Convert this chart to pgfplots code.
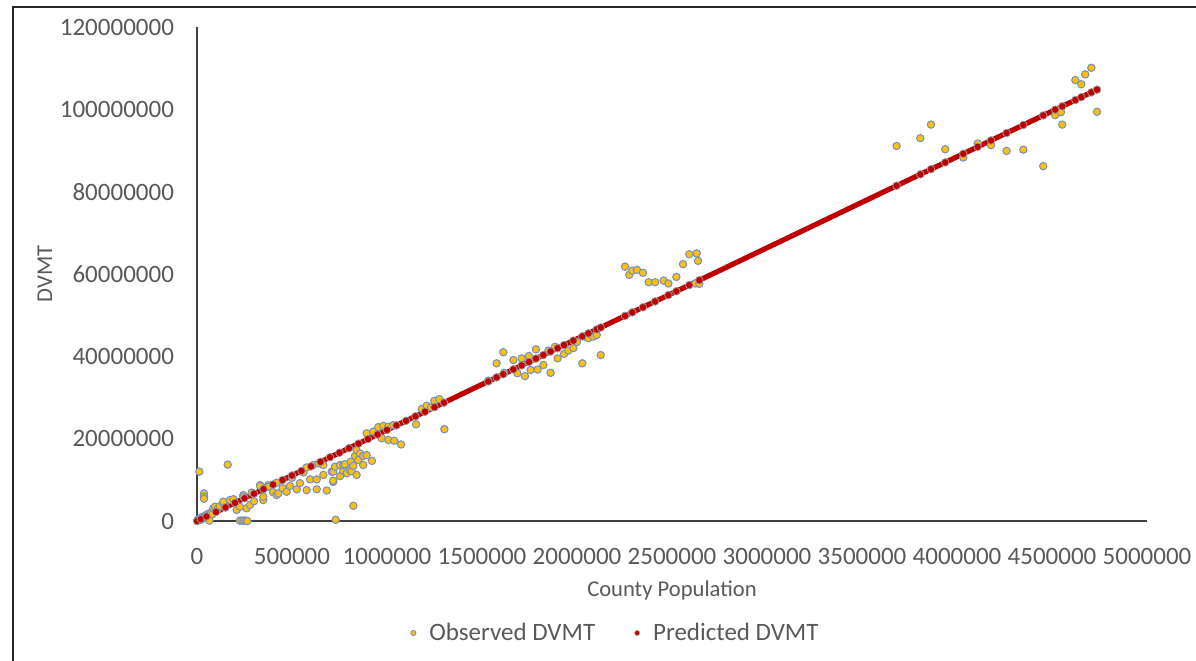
\documentclass[border=0pt]{standalone}
\usepackage{fontspec}
\setmainfont{Carlito}
\usepackage{pgfplots}
\usepackage{pgfplotstable}
\pgfplotsset{compat=1.18}
\definecolor{txt}{HTML}{595959}
\definecolor{obsfill}{HTML}{FFC000}
\definecolor{obsedge}{HTML}{6F8FCF}
\definecolor{predred}{HTML}{C00000}
\definecolor{axisgray}{HTML}{404040}

\pgfplotstableread{
pop val
3000 150000
6000 400000
9000 250000
12000 12000000
14000 600000
18000 300000
22000 800000
26000 500000
30000 1000000
34000 700000
36800 6700000
36800 5900000
36800 5400000
40000 1200000
45000 900000
50000 1400000
55000 1700000
60000 1300000
65000 100000
70000 1800000
75000 2100000
80000 1600000
86000 3100000
94700 3470000
100000 2400000
110000 3000000
120000 3600000
138000 4300000
138000 4700000
150000 3300000
161600 13700000
174000 5100000
191000 5300000
209000 2700000
226000 3470000
226000 100000
237000 100000
244000 6300000
244000 5900000
247000 100000
258000 100000
261000 3100000
265000 0
279000 3900000
288000 6900000
300000 4800000
332000 8700000
332000 8500000
349000 5100000
349000 5900000
375000 8700000
375000 8300000
400000 7000000
419000 9300000
419000 6300000
428000 6700000
450000 8000000
472000 7100000
489000 8500000
500000 10500000
525000 7700000
542000 9200000
560000 11800000
577000 7500000
577000 13000000
595000 10100000
612000 13600000
630000 7700000
630000 10100000
640000 14000000
665000 11200000
665000 13600000
683000 7400000
709000 12000000
717000 9500000
717000 9800000
717000 12000000
726000 13200000
730000 300000
753000 13600000
753000 10900000
770000 12200000
770000 13600000
779000 13800000
788000 11600000
805000 12400000
809000 14400000
814000 12100000
823000 13400000
823000 3700000
832000 15800000
840000 11200000
840000 17200000
849000 14800000
858000 16400000
875000 13600000
875000 15800000
893000 16000000
893000 21300000
921000 14600000
928000 21700000
954000 22800000
972000 20100000
981000 23100000
1007000 22900000
1007000 19700000
1033000 23300000
1038000 19500000
1074000 18600000
1153000 23500000
1183000 27200000
1209000 28000000
1232000 27600000
1249000 29200000
1275000 29600000
1302000 22300000
1533000 34100000
1577000 38300000
1612000 41000000
1617000 36000000
1665000 39100000
1686000 35900000
1709000 39500000
1726000 35200000
1747000 40100000
1756000 36700000
1784000 41700000
1793000 36800000
1823000 37900000
1849000 41400000
1861000 36000000
1884000 42300000
1898000 39500000
1932000 40600000
1954000 41400000
1981000 42000000
2000000 43500000
2028000 38300000
2040000 44800000
2060000 44400000
2086000 44800000
2104000 45200000
2125000 40300000
2253000 61800000
2275000 59800000
2291000 60800000
2316000 61000000
2347000 60300000
2377000 58000000
2411000 58000000
2456000 58400000
2481000 57700000
2523000 59300000
2558000 62400000
2591000 64800000
2623000 57700000
2630000 65000000
2637000 63200000
2644000 57600000
3682000 91100000
3807000 93000000
3863000 96300000
3938000 90300000
4033000 88300000
4109000 91700000
4179000 91300000
4261000 89900000
4349000 90200000
4454000 86200000
4517000 98600000
4547000 99300000
4554000 96300000
4623000 107100000
4654000 106100000
4675000 108500000
4707000 110100000
4737000 99400000
}\observed

\pgfplotstableread{
pop val
0 0
20000 442400
50000 1106000
100000 2212000
150000 3318000
200000 4424000
250000 5530000
300000 6636000
350000 7742000
400000 8848000
450000 9954000
500000 11060000
550000 12166000
600000 13272000
650000 14378000
700000 15484000
750000 16590000
800000 17696000
850000 18802000
900000 19908000
950000 21014000
1000000 22120000
1050000 23226000
1100000 24332000
1150000 25438000
1200000 26544000
1250000 27650000
1300000 28756000
1533000 33909960
1577000 34883240
1612000 35657440
1665000 36829800
1709000 37803080
1747000 38643640
1784000 39462080
1823000 40324760
1861000 41165320
1898000 41983760
1932000 42735840
1981000 43819720
2028000 44859360
2060000 45567200
2104000 46540480
2125000 47005000
2253000 49836360
2291000 50676920
2347000 51915640
2411000 53331320
2481000 54879720
2523000 55808760
2591000 57312920
2644000 58485280
3682000 81445840
3807000 84210840
3863000 85449560
3938000 87108560
4033000 89209960
4109000 90891080
4179000 92439480
4261000 94253320
4349000 96199880
4454000 98522480
4517000 99916040
4554000 100734480
4623000 102260760
4654000 102946480
4707000 104118840
4737000 104782440
}\predicted

\begin{document}
\begin{tikzpicture}[x=1pt,y=1pt]
\path[use as bounding box] (0,0) rectangle (598,-330);
\draw[line width=1.2pt, black!85] (6.5,-332) -- (6.5,-3.5) -- (600,-3.5);
\begin{axis}[
  at={(98.5pt,-260.5pt)}, anchor=south west,
  scale only axis, width=475pt, height=247pt,
  xmin=0, xmax=5000000, ymin=0, ymax=120000000,
  axis x line=bottom, axis y line=left,
  axis line style={axisgray, line width=0.7pt, -},
  xtick={0,500000,1000000,1500000,2000000,2500000,3000000,3500000,4000000,4500000,5000000},
  ytick={0,20000000,40000000,60000000,80000000,100000000,120000000},
  major tick length=0pt,
  scaled x ticks=false, scaled y ticks=false,
  /pgf/number format/fixed, /pgf/number format/precision=0,
  /pgf/number format/1000 sep={},
  /pgf/number format/assume math mode=true,
  tick label style={font=\fontsize{12.5}{14}\selectfont, text=txt},
  xticklabel style={yshift=-10pt},
  yticklabel style={xshift=-8pt},
  xlabel={County Population},
  ylabel={DVMT},
  label style={font=\fontsize{11.3}{13}\selectfont, text=txt},
  xlabel style={at={(axis description cs:0.5,-0.1396)}, anchor=center},
  ylabel style={at={(axis description cs:-0.16,0.5)}, anchor=center},
  legend columns=2,
  legend style={draw=none, fill=none, at={(0.441,-0.2267)}, anchor=center,
    font=\fontsize{12.5}{14}\selectfont, text=txt,
    /tikz/every even column/.append style={column sep=17pt}},
  legend image code/.code={\path[draw=none,fill=none] (-2pt,0pt) (6pt,0pt); \draw[#1] plot coordinates {(0pt,0pt)};},
  clip=false,
]
\addplot[only marks, mark=*, mark size=1.85pt,
  mark options={fill=obsfill, draw=obsedge, line width=0.5pt}, forget plot]
  table[x=pop, y=val]{\observed};
\addplot[predred, line width=2.6pt, mark=*, mark size=1.9pt,
  mark options={fill=predred, draw=gray!80, line width=0.4pt}, forget plot]
  table[x=pop, y=val]{\predicted};
\addlegendimage{only marks, mark=*, mark size=1.3pt, mark options={fill=obsfill, draw=obsedge, line width=0.4pt}}
\addlegendentry{Observed DVMT}
\addlegendimage{only marks, mark=*, mark size=1.3pt, mark options={fill=predred, draw=gray!70, line width=0.3pt}}
\addlegendentry{Predicted DVMT}
\end{axis}
\end{tikzpicture}
\end{document}
